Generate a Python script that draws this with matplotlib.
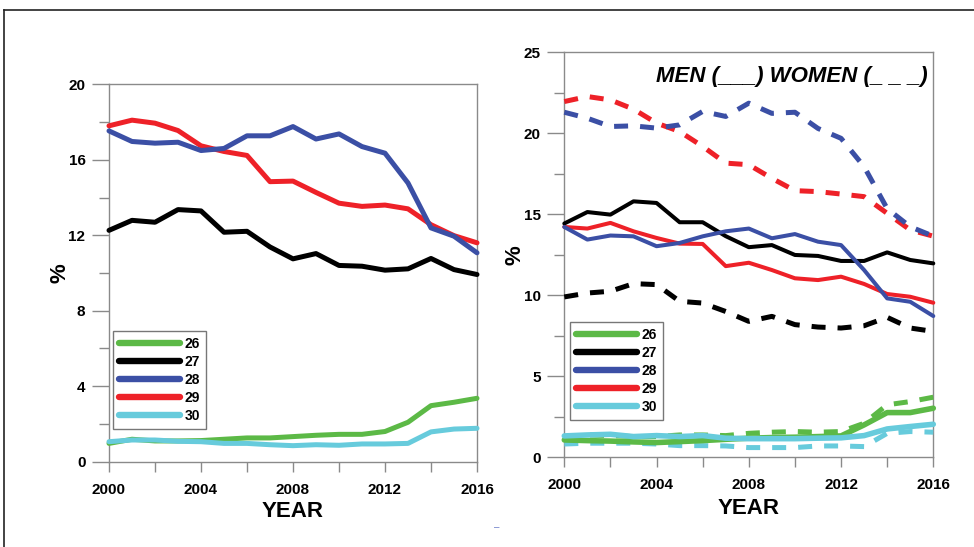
import matplotlib
matplotlib.use("Agg")
import matplotlib.pyplot as plt
from matplotlib.lines import Line2D
import numpy as np

plt.rcParams['font.family'] = ['Liberation Sans', 'DejaVu Sans']

years = list(range(2000, 2017))
groups = ["26", "27", "28", "29", "30"]
colors = {"26": "#5cb946", "27": "#000000", "28": "#3b4fa5", "29": "#ee2128", "30": "#67cbdc"}

# Left panel: both sexes combined (%)
total = {
    "26": [0.97, 1.19, 1.10, 1.10, 1.12, 1.19, 1.26, 1.26, 1.33, 1.40, 1.45, 1.45, 1.60, 2.09, 2.97, 3.15, 3.36],
    "27": [12.26, 12.79, 12.69, 13.36, 13.29, 12.16, 12.21, 11.38, 10.75, 11.03, 10.40, 10.36, 10.15, 10.22, 10.77, 10.18, 9.92],
    "28": [17.53, 16.97, 16.88, 16.93, 16.49, 16.60, 17.27, 17.27, 17.76, 17.10, 17.37, 16.70, 16.35, 14.77, 12.39, 11.95, 11.07],
    "29": [17.80, 18.10, 17.94, 17.55, 16.74, 16.44, 16.23, 14.84, 14.87, 14.27, 13.70, 13.53, 13.60, 13.40, 12.56, 11.98, 11.60],
    "30": [1.06, 1.15, 1.15, 1.08, 1.06, 0.97, 0.97, 0.90, 0.85, 0.90, 0.87, 0.94, 0.94, 0.97, 1.58, 1.73, 1.77],
}

# Right panel: men (solid) and women (dashed) (%)
men = {
    "26": [1.07, 1.03, 1.00, 0.95, 0.91, 0.97, 1.03, 1.11, 1.18, 1.22, 1.24, 1.28, 1.32, 2.00, 2.76, 2.76, 3.03],
    "27": [14.43, 15.14, 14.98, 15.80, 15.70, 14.51, 14.51, 13.65, 12.97, 13.10, 12.49, 12.43, 12.12, 12.12, 12.65, 12.18, 11.97],
    "28": [14.22, 13.44, 13.69, 13.64, 13.03, 13.23, 13.64, 13.95, 14.12, 13.52, 13.78, 13.31, 13.10, 11.56, 9.81, 9.60, 8.72],
    "29": [14.22, 14.12, 14.47, 13.95, 13.54, 13.19, 13.17, 11.80, 12.01, 11.56, 11.05, 10.94, 11.15, 10.70, 10.08, 9.91, 9.54],
    "30": [1.32, 1.38, 1.42, 1.28, 1.34, 1.28, 1.34, 1.18, 1.15, 1.15, 1.15, 1.18, 1.20, 1.34, 1.75, 1.90, 2.04],
}
women = {
    "26": [1.18, 1.38, 1.34, 1.28, 1.28, 1.38, 1.38, 1.34, 1.48, 1.55, 1.59, 1.55, 1.59, 2.10, 3.24, 3.44, 3.71],
    "27": [9.90, 10.14, 10.25, 10.72, 10.66, 9.63, 9.52, 9.00, 8.39, 8.70, 8.19, 8.04, 7.98, 8.12, 8.64, 7.98, 7.77],
    "28": [21.30, 20.93, 20.42, 20.46, 20.32, 20.52, 21.35, 21.04, 21.86, 21.23, 21.30, 20.30, 19.69, 17.94, 15.35, 14.23, 13.65],
    "29": [21.96, 22.27, 22.06, 21.49, 20.63, 20.11, 19.19, 18.16, 18.06, 17.22, 16.46, 16.40, 16.25, 16.09, 15.06, 14.03, 13.65],
    "30": [0.82, 0.87, 0.87, 0.87, 0.82, 0.72, 0.72, 0.70, 0.60, 0.60, 0.60, 0.70, 0.70, 0.66, 1.48, 1.59, 1.55],
}

W, H = 974, 547
fig = plt.figure(figsize=(W / 100, H / 100), dpi=100)

# outer frame (top and left edges)
fig.add_artist(Line2D([4 / W, 1.0], [1 - 10 / H, 1 - 10 / H], color="#222222", lw=1.2))
fig.add_artist(Line2D([4 / W, 4 / W], [0.0, 1 - 10 / H], color="#222222", lw=1.2))

spine_c = "#8a8a8a"


def style_axes(ax, ymax, ystep):
    ax.set_xlim(2000, 2016)
    ax.set_ylim(0, ymax)
    for s in ax.spines.values():
        s.set_color(spine_c)
        s.set_linewidth(1.0)
    ax.set_xticks(range(2000, 2017, 4))
    ax.set_xticks(range(2002, 2017, 4), minor=True)
    ax.set_yticks(np.arange(0, ymax + 0.1, ystep))
    ax.set_yticks(np.arange(ystep / 2, ymax, ystep), minor=True)
    ax.tick_params(axis="both", which="both", direction="out", color=spine_c, width=1.0,
                   top=False, right=False)
    ax.tick_params(axis="y", which="major", length=12, pad=5)
    ax.tick_params(axis="y", which="minor", length=7)
    ax.tick_params(axis="x", which="both", length=7, pad=8)
    for lab in ax.get_xticklabels() + ax.get_yticklabels():
        lab.set_fontweight("bold")
        lab.set_fontsize(11)
    ax.set_xlabel("YEAR", fontsize=16, fontweight="bold", labelpad=0)
    ax.set_ylabel("%", fontsize=16, fontweight="bold")


def add_legend(ax, x0, y0):
    handles = [Line2D([0], [0], color=colors[g], lw=4.6, solid_capstyle="round") for g in groups]
    leg = ax.legend(handles, groups, loc="upper left",
                    bbox_to_anchor=(x0 / W, 1 - y0 / H), bbox_transform=fig.transFigure,
                    frameon=True, fancybox=False, handlelength=4.4, handletextpad=0.3,
                    labelspacing=0.28, borderpad=0.45, borderaxespad=0,
                    prop={"weight": "bold", "size": 10})
    leg.get_frame().set_edgecolor("#555555")
    leg.get_frame().set_linewidth(1.0)


# ---- left panel
axL = fig.add_axes([109 / W, 1 - 461.7 / H, (477 - 109) / W, (461.7 - 84.3) / H])
for g in ["26", "30", "27", "29", "28"]:
    axL.plot(years, total[g], color=colors[g], lw=3.6, solid_capstyle="round",
             solid_joinstyle="round", clip_on=False, zorder=3)
style_axes(axL, 20, 4)
axL.xaxis.set_label_coords(0.5, -0.105)
axL.yaxis.set_label_coords(-0.105, 0.5)
add_legend(axL, 113, 331)

# ---- right panel
axR = fig.add_axes([564.3 / W, 1 - 457.3 / H, (933.3 - 564.3) / W, (457.3 - 52.3) / H])
dash = (0, (2.8, 2.4))
for g in ["29", "28", "27", "26", "30"]:
    axR.plot(years, women[g], color=colors[g], lw=3.6, linestyle=dash, dash_capstyle="butt",
             clip_on=False, zorder=3)
for g in ["27", "29", "28", "26", "30"]:
    lw = 4.0 if g in ("26", "30") else 2.9
    axR.plot(years, men[g], color=colors[g], lw=lw, solid_capstyle="round",
             solid_joinstyle="round", clip_on=False, zorder=4)
style_axes(axR, 25, 5)
axR.xaxis.set_label_coords(0.5, -0.1)
axR.yaxis.set_label_coords(-0.105, 0.5)
add_legend(axR, 570, 322)

axR.text(0.985, 0.965, "MEN (___) WOMEN (_ _ _)", transform=axR.transAxes,
         ha="right", va="top", fontsize=16, fontweight="bold", fontstyle="italic")

fig.text(497 / W, 1 - 527 / H, "\u2013", color="#6b7cc8", fontsize=7, ha="center", va="center")

fig.savefig("out.png", dpi=100)
